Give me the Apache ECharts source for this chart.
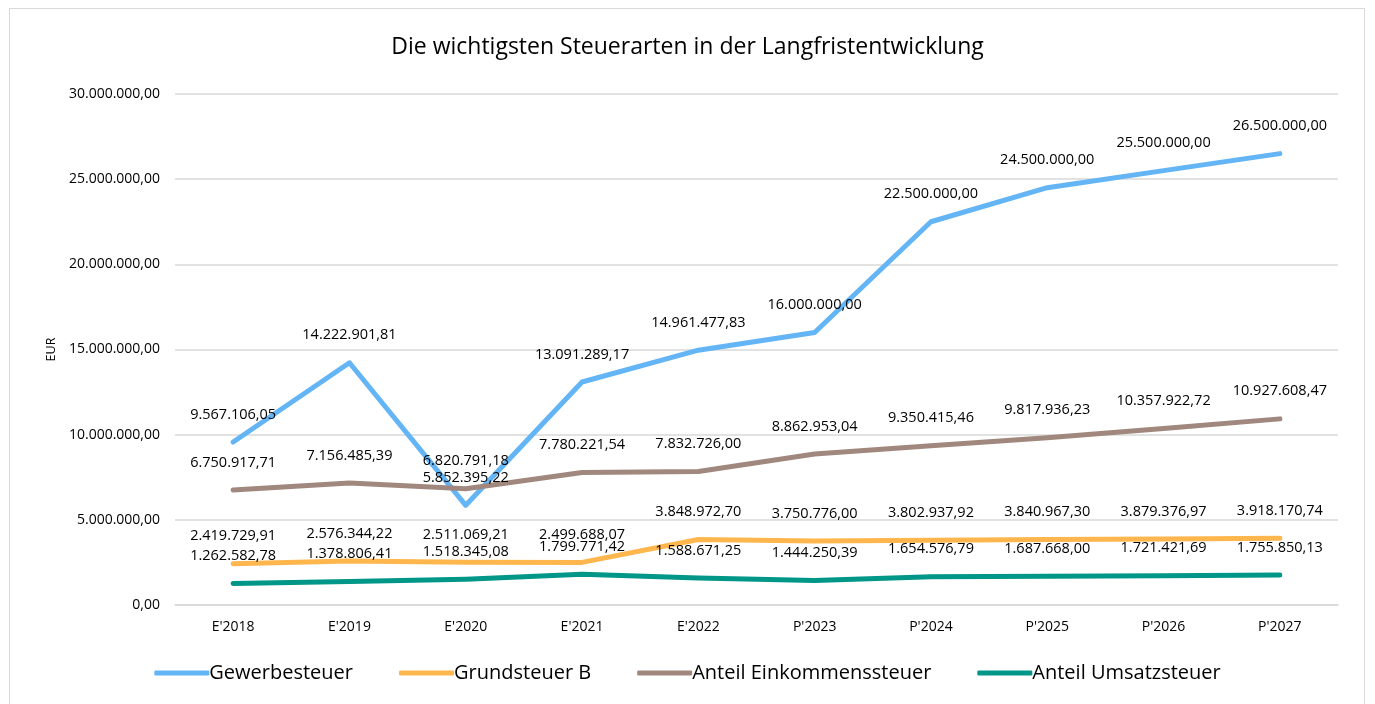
<!DOCTYPE html>
<html><head><meta charset="utf-8">
<script src="https://cdn.jsdelivr.net/npm/echarts@6/dist/echarts.min.js"></script>
<style>
html,body{margin:0;padding:0;background:#fff;}
#frame{position:absolute;left:9px;top:8px;width:1356px;height:720px;border:1px solid #d9d9d9;box-sizing:border-box;}
#main{position:absolute;left:0;top:0;width:1375px;height:704px;}
</style></head>
<body>
<div id="frame"></div>
<div id="main"></div>
<script>
const categories = ["E'2018","E'2019","E'2020","E'2021","E'2022","P'2023","P'2024","P'2025","P'2026","P'2027"];
const gewerbesteuer = [9567106.05,14222901.81,5852395.22,13091289.17,14961477.83,16000000.00,22500000.00,24500000.00,25500000.00,26500000.00];
const grundsteuerB = [2419729.91,2576344.22,2511069.21,2499688.07,3848972.70,3750776.00,3802937.92,3840967.30,3879376.97,3918170.74];
const einkommensteuer = [6750917.71,7156485.39,6820791.18,7780221.54,7832726.00,8862953.04,9350415.46,9817936.23,10357922.72,10927608.47];
const umsatzsteuer = [1262582.78,1378806.41,1518345.08,1799771.42,1588671.25,1444250.39,1654576.79,1687668.00,1721421.69,1755850.13];
const yTicks = {min:0, max:30000000, interval:5000000};

function fmt(v){
  const neg = v<0; v=Math.abs(v);
  let s = v.toFixed(2);
  let [i,d] = s.split('.');
  i = i.replace(/\B(?=(\d{3})+(?!\d))/g,'.');
  return (neg?'-':'')+i+','+d;
}
const FONT = '"Open Sans", "Noto Sans", sans-serif';
const chart = echarts.init(document.getElementById('main'));
function mk(name, data, color){
  return {
    name, type:'line', data, symbol:'circle', symbolSize:2, showSymbol:true, smooth:false,
    lineStyle:{width:5, color, cap:'round', join:'round'},
    itemStyle:{color},
    label:{show:true, position:'top', distance:19, formatter:p=>fmt(p.value),
      fontFamily:FONT, fontSize:14.5, color:'#000'},
    labelLayout:{hideOverlap:false},
    emphasis:{disabled:true}
  };
}
chart.setOption({
  animation:false,
  title:{text:'Die wichtigsten Steuerarten in der Langfristentwicklung', left:'center', top:31,
    textStyle:{fontFamily:FONT, fontSize:23, fontWeight:'normal', color:'#000'}},
  grid:{left:175, right:37, top:94, bottom:99, containLabel:false},
  legend:{bottom:16, left:'center', itemWidth:55, itemHeight:5, itemGap:46,
    icon:'roundRect',
    textStyle:{fontFamily:FONT, fontSize:20, color:'#000', padding:[0,0,0,-5]}},
  xAxis:{type:'category', data:categories, boundaryGap:true,
    axisLine:{show:true, lineStyle:{color:'#d9d9d9', width:1.5}}, axisTick:{show:false},
    axisLabel:{fontFamily:FONT, fontSize:14, color:'#000', margin:15}},
  yAxis:{type:'value', min:yTicks.min, max:yTicks.max, interval:yTicks.interval,
    name:'EUR', nameLocation:'middle', nameGap:117, nameRotate:90,
    nameTextStyle:{fontFamily:FONT, fontSize:12.5, color:'#000'},
    axisLine:{show:false}, axisTick:{show:false},
    axisLabel:{fontFamily:FONT, fontSize:14, color:'#000', margin:15, formatter:v=>fmt(v)},
    splitLine:{lineStyle:{color:'#d9d9d9', width:1.5}}},
  series:[
    mk('Gewerbesteuer', gewerbesteuer, '#64b5f6'),
    mk('Grundsteuer B', grundsteuerB, '#ffb74d'),
    mk('Anteil Einkommenssteuer', einkommensteuer, '#a1887f'),
    mk('Anteil Umsatzsteuer', umsatzsteuer, '#009688')
  ]
});
</script>
</body></html>
